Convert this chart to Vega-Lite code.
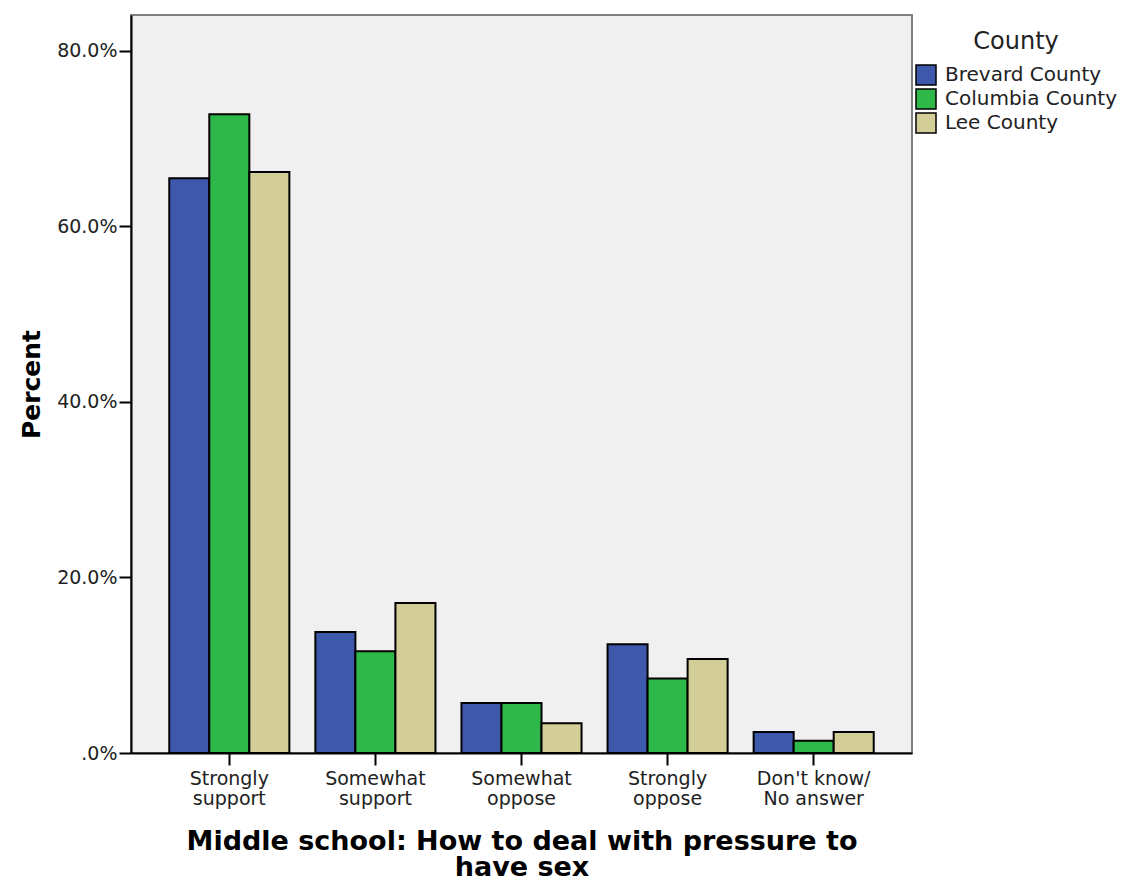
{
  "$schema": "https://vega.github.io/schema/vega-lite/v6.json",
  "autosize": "none",
  "padding": {"left": 131, "top": 15, "right": 213, "bottom": 128},
  "width": 781,
  "height": 738,
  "background": "white",
  "config": {
    "font": "DejaVu Sans",
    "view": {"fill": "#f0f0f0", "stroke": "#808080", "strokeWidth": 2}
  },
  "data": {
    "values": [
      {"category": "Strongly support", "county": "Brevard County", "percent": 65.5},
      {"category": "Strongly support", "county": "Columbia County", "percent": 72.8},
      {"category": "Strongly support", "county": "Lee County", "percent": 66.2},
      {"category": "Somewhat support", "county": "Brevard County", "percent": 13.8},
      {"category": "Somewhat support", "county": "Columbia County", "percent": 11.6},
      {"category": "Somewhat support", "county": "Lee County", "percent": 17.1},
      {"category": "Somewhat oppose", "county": "Brevard County", "percent": 5.7},
      {"category": "Somewhat oppose", "county": "Columbia County", "percent": 5.7},
      {"category": "Somewhat oppose", "county": "Lee County", "percent": 3.4},
      {"category": "Strongly oppose", "county": "Brevard County", "percent": 12.4},
      {"category": "Strongly oppose", "county": "Columbia County", "percent": 8.5},
      {"category": "Strongly oppose", "county": "Lee County", "percent": 10.7},
      {"category": "Don't know/ No answer", "county": "Brevard County", "percent": 2.4},
      {"category": "Don't know/ No answer", "county": "Columbia County", "percent": 1.4},
      {"category": "Don't know/ No answer", "county": "Lee County", "percent": 2.4}
    ]
  },
  "mark": {"type": "bar", "stroke": "black", "strokeWidth": 2},
  "encoding": {
    "x": {
      "field": "category",
      "type": "nominal",
      "sort": ["Strongly support", "Somewhat support", "Somewhat oppose", "Strongly oppose", "Don't know/ No answer"],
      "scale": {"paddingInner": 0.178, "paddingOuter": 0.262},
      "axis": {
        "title": ["Middle school: How to deal with pressure to", "have sex"],
        "titleFont": "DejaVu Sans",
        "titleFontSize": 27,
        "titleFontWeight": "bold",
        "titleColor": "black",
        "titleLineHeight": 26,
        "titlePadding": 20,
        "labelAngle": 0,
        "labelFontSize": 19,
        "labelColor": "#222",
        "labelLineHeight": 20,
        "labelPadding": 4,
        "labelExpr": "datum.label == \"Don't know/ No answer\" ? [\"Don't know/\", \"No answer\"] : split(datum.label, ' ')",
        "tickSize": 12,
        "tickColor": "black",
        "tickWidth": 2,
        "domainColor": "black",
        "domainWidth": 2,
        "grid": false
      }
    },
    "xOffset": {
      "field": "county",
      "type": "nominal",
      "scale": {"paddingInner": 0, "paddingOuter": 0}
    },
    "y": {
      "field": "percent",
      "type": "quantitative",
      "scale": {"domain": [0, 84.1], "nice": false},
      "axis": {
        "title": "Percent",
        "titleFont": "DejaVu Sans",
        "titleFontSize": 25,
        "titleFontWeight": "bold",
        "titleColor": "black",
        "titlePadding": 12,
        "values": [0, 20, 40, 60, 80],
        "labelExpr": "datum.value == 0 ? '.0%' : format(datum.value, '.1f') + '%'",
        "labelFontSize": 19,
        "labelColor": "#222",
        "labelPadding": 2,
        "tickSize": 12,
        "tickColor": "black",
        "tickWidth": 2,
        "domainColor": "black",
        "domainWidth": 2,
        "grid": false
      }
    },
    "color": {
      "field": "county",
      "type": "nominal",
      "scale": {
        "domain": ["Brevard County", "Columbia County", "Lee County"],
        "range": ["#3e58ac", "#2fb84a", "#d3ce97"]
      },
      "legend": {
        "title": "County",
        "orient": "none",
        "legendX": 784,
        "legendY": 15,
        "titleFontSize": 24,
        "titleFontWeight": "normal",
        "titleColor": "#222",
        "titleAnchor": "middle",
        "titleAlign": "center",
        "titlePadding": 10,
        "labelFontSize": 20,
        "labelColor": "#222",
        "labelOffset": 8,
        "labelLimit": 400,
        "symbolType": "square",
        "symbolSize": 400,
        "symbolStrokeColor": "black",
        "symbolStrokeWidth": 1.5,
        "symbolOpacity": 1,
        "rowPadding": -2
      }
    }
  }
}
